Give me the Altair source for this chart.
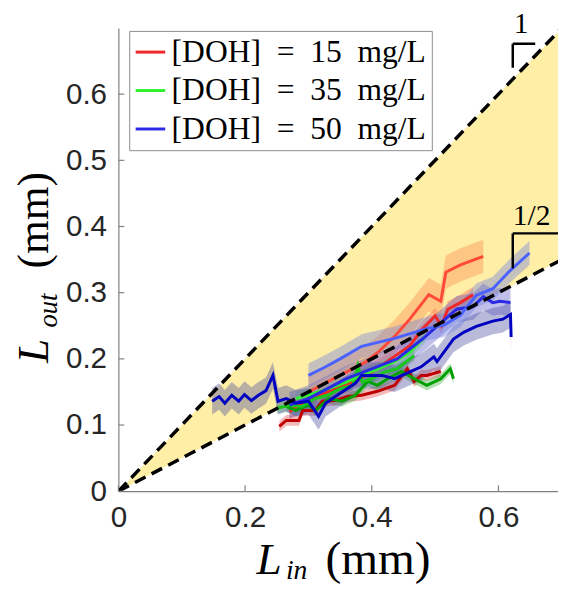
import altair as alt
import pandas as pd

# ---------------- data ----------------
trace_ids = ["R1", "R3", "R2", "G1", "G3", "G2", "B2", "B1", "B3"]
line_colors = ["#C00000", "#F02828", "#FF4A3A", "#00A000", "#18C818", "#30F030", "#2B2BE6", "#0000C0", "#4A62FF"]
band_colors = ["#E05050", "#FF6A5A", "#FF8A50", "#40B040", "#50D050", "#70F070", "#6060C8", "#5050A0", "#7080E0"]
band_half = [0.008, 0.012, 0.025, 0.008, 0.008, 0.01, 0.02, 0.02, 0.018]

r1_x = [0.254, 0.265, 0.285, 0.291, 0.311, 0.322, 0.342, 0.362, 0.384, 0.409, 0.436, 0.456, 0.467, 0.478, 0.487, 0.509]
r1_y = [0.098, 0.107, 0.107, 0.122, 0.122, 0.136, 0.137, 0.143, 0.145, 0.151, 0.160, 0.185, 0.166, 0.175, 0.175, 0.181]
r3_x = [0.27, 0.30, 0.33, 0.37, 0.40, 0.43, 0.46, 0.48, 0.50, 0.51, 0.52, 0.54, 0.56]
r3_y = [0.12, 0.14, 0.15, 0.165, 0.18, 0.20, 0.22, 0.245, 0.265, 0.25, 0.275, 0.285, 0.297]
r2_x = [0.30, 0.33, 0.36, 0.39, 0.41, 0.436, 0.46, 0.490, 0.509, 0.517, 0.540, 0.576]
r2_y = [0.15, 0.165, 0.18, 0.195, 0.21, 0.234, 0.26, 0.297, 0.287, 0.331, 0.342, 0.355]
g1_x = [0.265, 0.280, 0.300, 0.311, 0.332, 0.353, 0.374, 0.394, 0.409, 0.425, 0.447, 0.467, 0.487, 0.509, 0.524, 0.529]
g1_y = [0.128, 0.122, 0.130, 0.122, 0.140, 0.136, 0.145, 0.166, 0.160, 0.170, 0.181, 0.170, 0.160, 0.170, 0.185, 0.170]
g3_x = [0.25, 0.27, 0.29, 0.31, 0.33, 0.35, 0.37, 0.378, 0.385, 0.40, 0.42, 0.44, 0.467]
g3_y = [0.125, 0.13, 0.128, 0.14, 0.145, 0.155, 0.16, 0.19, 0.165, 0.17, 0.18, 0.185, 0.205]
g2_x = [0.280, 0.31, 0.332, 0.36, 0.384, 0.41, 0.436, 0.46, 0.484]
g2_y = [0.140, 0.148, 0.155, 0.165, 0.175, 0.185, 0.196, 0.21, 0.234]
b2_x = [0.27, 0.30, 0.33, 0.36, 0.40, 0.44, 0.48, 0.51, 0.534, 0.56, 0.576, 0.591, 0.602, 0.619]
b2_y = [0.13, 0.14, 0.155, 0.17, 0.185, 0.20, 0.23, 0.255, 0.275, 0.279, 0.294, 0.285, 0.287, 0.285]
b1_x = [0.148, 0.159, 0.168, 0.179, 0.190, 0.199, 0.210, 0.221, 0.233, 0.244, 0.252, 0.265, 0.280, 0.300,
        0.316, 0.327, 0.350, 0.374, 0.384, 0.416, 0.436, 0.462, 0.478, 0.498, 0.503, 0.529, 0.545, 0.565,
        0.591, 0.607, 0.619, 0.620]
b1_y = [0.136, 0.143, 0.133, 0.145, 0.136, 0.146, 0.137, 0.145, 0.152, 0.175, 0.136, 0.140, 0.133, 0.136,
        0.113, 0.133, 0.148, 0.163, 0.175, 0.175, 0.170, 0.181, 0.188, 0.203, 0.196, 0.230, 0.240, 0.249,
        0.257, 0.260, 0.267, 0.233]
b3_x = [0.30, 0.325, 0.35, 0.384, 0.436, 0.488, 0.514, 0.540, 0.565, 0.591, 0.618, 0.649]
b3_y = [0.175, 0.187, 0.20, 0.219, 0.231, 0.246, 0.251, 0.266, 0.296, 0.306, 0.333, 0.360]

legend_traces = ["R3", "G2", "B2"]
legend_labels = ["[DOH]\u00a0\u00a0=\u00a0\u00a015\u00a0\u00a0mg/L",
                 "[DOH]\u00a0\u00a0=\u00a0\u00a035\u00a0\u00a0mg/L",
                 "[DOH]\u00a0\u00a0=\u00a0\u00a050\u00a0\u00a0mg/L"]

guide_x = [0.0, 0.7]
guide_upper = [0.0, 0.7]     # slope 1
guide_lower = [0.0, 0.35]    # slope 1/2

x_ticks = [0, 0.2, 0.4, 0.6]
y_ticks = [0, 0.1, 0.2, 0.3, 0.4, 0.5, 0.6]

# slope markers (data coordinates)
bracket_x = [0.6226, 0.6226, 0.6226, 0.6226]
bracket_y = [0.676, 0.676, 0.3896, 0.3896]
bracket_x2 = [0.658, 0.6226, 0.72, 0.6226]
bracket_y2 = [0.676, 0.640, 0.3896, 0.337]
slope_text = ["1", "1/2"]
slope_tx = [0.624, 0.6226]
slope_ty = [0.693, 0.403]

# ---------------- build tables ----------------
series = {"R1": (r1_x, r1_y), "R3": (r3_x, r3_y), "R2": (r2_x, r2_y),
          "G1": (g1_x, g1_y), "G3": (g3_x, g3_y), "G2": (g2_x, g2_y),
          "B2": (b2_x, b2_y), "B1": (b1_x, b1_y), "B3": (b3_x, b3_y)}
rows = []
for tid, hw in zip(trace_ids, band_half):
    xs_, ys_ = series[tid]
    for i, (xv, yv) in enumerate(zip(xs_, ys_)):
        rows.append({"trace": tid, "i": i, "x": xv, "y": yv, "blo": yv - hw, "bhi": yv + hw})
df = pd.DataFrame(rows)

guide = pd.DataFrame({"x": guide_x, "up": guide_upper, "lo": guide_lower})
brackets = pd.DataFrame({"x": bracket_x, "y": bracket_y, "x2": bracket_x2, "y2": bracket_y2})
slopes = pd.DataFrame({"t": slope_text, "x": slope_tx, "y": slope_ty})
xt = pd.DataFrame({"v": x_ticks})
yt = pd.DataFrame({"v": y_ticks})
one = pd.DataFrame({"a": [0]})

W, H = 446, 470
xs = alt.Scale(domain=[0, 0.694], nice=False, zero=False)
ys = alt.Scale(domain=[0, 0.7], nice=False, zero=False)

XAX = alt.Axis(values=x_ticks, title=None, ticks=False, grid=False, labelFlush=False,
               labelFont="Liberation Sans", labelFontSize=30,
               labelColor="#262626", labelPadding=12,
               domainColor="#808080", domainWidth=1.2,
               labelExpr="datum.value == 0 ? '0' : format(datum.value, '.1f')")
YAX = alt.Axis(values=y_ticks, title=None, ticks=False, grid=False, labelFlush=False,
               labelFont="Liberation Sans", labelFontSize=30,
               labelColor="#262626", labelPadding=12,
               domainColor="#808080", domainWidth=1.2,
               labelExpr="datum.value == 0 ? '0' : format(datum.value, '.1f')")


def X(f):
    return alt.X(f, scale=xs, axis=XAX)


def Y(f):
    return alt.Y(f, scale=ys, axis=YAX)


area = alt.Chart(guide).mark_area(color="#FEEEA6", clip=True).encode(
    x=X("x:Q"), y=Y("lo:Q"), y2="up:Q")

bands = alt.Chart(df).mark_area(opacity=0.4, clip=True).encode(
    x=X("x:Q"), y=Y("blo:Q"), y2="bhi:Q",
    fill=alt.Fill("trace:N", scale=alt.Scale(domain=trace_ids, range=band_colors), legend=None))

label_expr = " : ".join([f"datum.label == '{t}' ? '{l}'" for t, l in zip(legend_traces, legend_labels)]) + " : ''"
lines = alt.Chart(df).mark_line(strokeWidth=3, clip=True).encode(
    x=X("x:Q"), y=Y("y:Q"),
    color=alt.Color("trace:N", scale=alt.Scale(domain=trace_ids, range=line_colors),
                    legend=alt.Legend(values=legend_traces, labelExpr=label_expr, title=None,
                                      orient="none", legendX=11, legendY=3,
                                      strokeColor="#8c8c8c", fillColor="white", padding=5,
                                      symbolType="stroke", symbolSize=900, symbolStrokeWidth=3,
                                      labelFont="Liberation Serif", labelFontSize=32,
                                      labelColor="black", labelOffset=5, rowPadding=6,
                                      labelLimit=400)),
    order="i:Q")

dash_up = alt.Chart(guide).mark_line(color="black", strokeWidth=3.5, strokeDash=[12, 7], clip=True).encode(
    x=X("x:Q"), y=Y("up:Q"))
dash_lo = alt.Chart(guide).mark_line(color="black", strokeWidth=3.5, strokeDash=[12, 7], clip=True).encode(
    x=X("x:Q"), y=Y("lo:Q"))

brk = alt.Chart(brackets).mark_rule(color="black", strokeWidth=2.5, clip=True).encode(
    x=X("x:Q"), y=Y("y:Q"), x2="x2:Q", y2="y2:Q")
stext = alt.Chart(slopes).mark_text(font="Liberation Serif", fontSize=30, align="left",
                                    baseline="alphabetic", color="black").encode(
    x=X("x:Q"), y=Y("y:Q"), text="t:N")

xtick = alt.Chart(xt).mark_rule(color="#808080", strokeWidth=1.2).encode(
    x=X("v:Q"), y=alt.value(H), y2=alt.value(H - 6))
ytick = alt.Chart(yt).mark_rule(color="#808080", strokeWidth=1.2).encode(
    y=Y("v:Q"), x=alt.value(0), x2=alt.value(6))


def txt(s, px, py, size, italic=True, angle=0):
    return alt.Chart(one).mark_text(text=s, font="Liberation Serif", fontSize=size,
                                    fontStyle="italic" if italic else "normal",
                                    align="left", baseline="alphabetic", angle=angle,
                                    color="black").encode(x=alt.value(px), y=alt.value(py))


titles = [
    txt("L", 140, 554, 46),
    txt("in", 170, 559, 28),
    txt("(mm)", 210, 554, 48, italic=False),
    txt("L", -71, 340, 44, angle=270),
    txt("out", -62, 304, 27, angle=270),
    txt("(mm)", -71, 244, 44, italic=False, angle=270),
]

chart = alt.layer(area, bands, lines, dash_up, dash_lo, brk, stext, xtick, ytick, *titles).properties(
    width=W, height=H,
    padding={"left": 112, "top": 16, "right": 0, "bottom": 98},
    autosize=alt.AutoSizeParams(type="none"),
).configure_view(stroke=None).resolve_scale(fill="independent")

chart.save("out.html", embed_options={"renderer": "svg", "actions": False})
